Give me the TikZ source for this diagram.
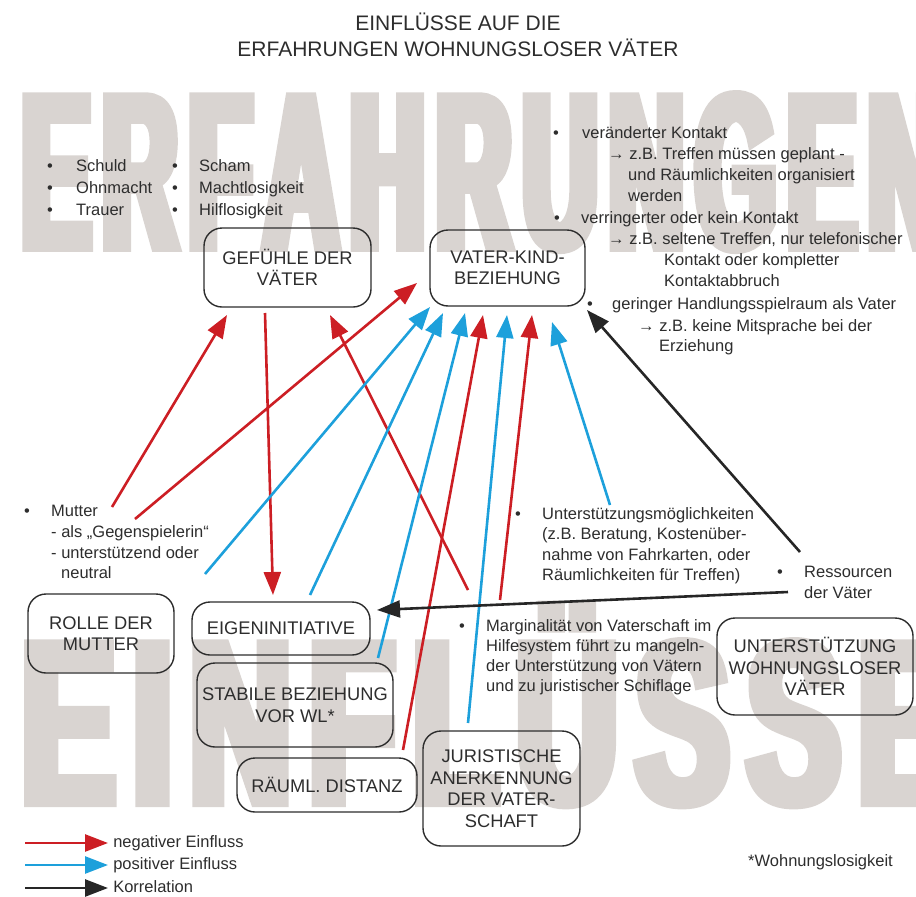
\documentclass[tikz,border=0pt]{standalone}
\usepackage{fontspec}
\setmainfont{Liberation Sans}
\newfontfamily\wmfontoben[FakeStretch=0.23,FakeBold=3.0]{Liberation Sans}
\newfontfamily\wmfontunten[FakeStretch=0.30,FakeBold=3.0]{Liberation Sans}
\usetikzlibrary{arrows.meta}

\definecolor{negred}{RGB}{204,30,36}
\definecolor{posblue}{RGB}{29,160,219}
\definecolor{korrgray}{RGB}{38,38,38}
\definecolor{wmgray}{RGB}{217,212,209}
\definecolor{txtgray}{RGB}{45,45,45}

\tikzset{
	txt/.style={anchor=west,inner sep=0pt,text=txtgray,font=\fontsize{16.5}{20}\selectfont,text height=12pt,text depth=3.5pt},
	titel/.style={anchor=base,inner sep=0pt,text=txtgray,font=\fontsize{21}{25}\selectfont},
	kasten/.style={draw=txtgray,line width=1.4pt,rounded corners=18pt,align=center,text=txtgray,font=\fontsize{18.3}{21.5}\selectfont,inner sep=0pt},
	wmtext/.style={anchor=base west,inner sep=0pt,text=wmgray},
	negarr/.style={draw=negred,line width=2.6pt,-{Triangle[length=23pt,width=17pt]}},
	posarr/.style={negarr,draw=posblue},
	korarr/.style={negarr,draw=korrgray}
}

\begin{document}
\begin{tikzpicture}[x=1pt,y=-1pt]
		\useasboundingbox (0,0) rectangle (916,897);
		\clip (0,0) rectangle (916,897);

		\node[wmtext,font=\wmfontoben\fontsize{222.3}{223}\selectfont\bfseries] (wmoben) at (22,248.6) {\scalebox{2}[1]{E\kern6.25pt R\kern6.25pt F\kern6.25pt A\kern6.25pt H\kern6.25pt R\kern6.25pt U\kern6.25pt N\kern6.25pt G\kern6.25pt E\kern6.25pt N}};
		\node[wmtext,font=\wmfontunten\fontsize{233.5}{234}\selectfont\bfseries] (wmunten) at (21.5,803.6) {\scalebox{2}[1]{E\kern9pt I\kern9pt N\kern9pt F\kern9pt L\kern9pt Ü\kern9pt S\kern9pt S\kern9pt E}};

		\node[titel] (titel1) at (458,30.5) {EINFLÜSSE AUF DIE};
		\node[titel] (titel2) at (458,56) {ERFAHRUNGEN WOHNUNGSLOSER VÄTER};

		\node[kasten,minimum width=167pt,minimum height=79pt] (gef) at (287.5,267.5) {GEFÜHLE DER\\VÄTER};
		\node[kasten,minimum width=155pt,minimum height=76pt] (vk) at (507.5,268) {VATER-KIND-\\BEZIEHUNG};
		\node[kasten,minimum width=146pt,minimum height=79pt] (rolle) at (101,633.5) {ROLLE DER\\MUTTER};
		\node[kasten,minimum width=178pt,minimum height=53pt] (eigen) at (281,628.5) {EIGENINITIATIVE};
		\node[kasten,minimum width=196pt,minimum height=84pt] (stabil) at (295,705) {STABILE BEZIEHUNG\\VOR WL*};
		\node[kasten,minimum width=180pt,minimum height=54pt] (raeuml) at (327,785) {RÄUML. DISTANZ};
		\node[kasten,minimum width=157pt,minimum height=115pt] (jur) at (501.5,788.5) {JURISTISCHE\\ANERKENNUNG\\DER VATER-\\SCHAFT};
		\node[kasten,minimum width=196pt,minimum height=97pt] (unter) at (815,666.5) {UNTERSTÜTZUNG\\WOHNUNGSLOSER\\VÄTER};

		\node[txt] (schuld) at (47,167) {\makebox[29pt][l]{•}Schuld};
		\node[txt] (ohnmacht) at (47,189) {\makebox[29pt][l]{•}Ohnmacht};
		\node[txt] (trauer) at (47,211) {\makebox[29pt][l]{•}Trauer};
		\node[txt] (scham) at (172,167) {\makebox[27pt][l]{•}Scham};
		\node[txt] (machtlos) at (172,189) {\makebox[27pt][l]{•}Machtlosigkeit};
		\node[txt] (hilflos) at (172,211) {\makebox[27pt][l]{•}Hilflosigkeit};

		\node[txt] (kontakt1) at (553,134) {\makebox[29pt][l]{•}veränderter Kontakt};
		\node[txt] (kontakt1a) at (608,155) {→ z.B. Treffen müssen geplant -};
		\node[txt] (kontakt1b) at (628,176) {und Räumlichkeiten organisiert};
		\node[txt] (kontakt1c) at (628,197) {werden};
		\node[txt] (kontakt2) at (554,219) {\makebox[27pt][l]{•}verringerter oder kein Kontakt};
		\node[txt] (kontakt2a) at (608,240) {→ z.B. seltene Treffen, nur telefonischer};
		\node[txt] (kontakt2b) at (664,261) {Kontakt oder kompletter};
		\node[txt] (kontakt2c) at (664,282) {Kontaktabbruch};
		\node[txt] (spielraum) at (587,305) {\makebox[25pt][l]{•}geringer Handlungsspielraum als Vater};
		\node[txt] (spielraum1) at (638,327) {→ z.B. keine Mitsprache bei der};
		\node[txt] (spielraum2) at (659,347) {Erziehung};

		\node[txt] (mutter) at (24,512) {\makebox[27pt][l]{•}Mutter};
		\node[txt] (mutter1) at (51,533) {- als „Gegenspielerin“};
		\node[txt] (mutter2) at (51,554) {- unterstützend oder};
		\node[txt] (mutter3) at (61,574) {neutral};

		\node[txt] (hilfe) at (515,515) {\makebox[27pt][l]{•}Unterstützungsmöglichkeiten};
		\node[txt] (hilfe1) at (542,535) {(z.B. Beratung, Kostenüber-};
		\node[txt] (hilfe2) at (542,556) {nahme von Fahrkarten, oder};
		\node[txt] (hilfe3) at (542,576) {Räumlichkeiten für Treffen)};

		\node[txt] (ress) at (777,573) {\makebox[27pt][l]{•}Ressourcen};
		\node[txt] (ress1) at (804,594) {der Väter};

		\node[txt] (margin) at (459,627) {\makebox[27pt][l]{•}Marginalität von Vaterschaft im};
		\node[txt] (margin1) at (486,647) {Hilfesystem führt zu mangeln-};
		\node[txt] (margin2) at (486,667) {der Unterstützung von Vätern};
		\node[txt] (margin3) at (486,687) {und zu juristischer Schiflage};

		\node[txt] (fussnote) at (748,862) {*Wohnungslosigkeit};

		\coordinate (mutterA) at (112,507);
		\coordinate (mutterB) at (135,519);
		\coordinate (mutterC) at (205,574);
		\coordinate (gefIn1) at (227,315);
		\coordinate (gefIn2) at (330,315);
		\coordinate (gefOut) at (265,313);
		\coordinate (eigenIn1) at (273,595);
		\coordinate (eigenIn2) at (377,610);
		\coordinate (eigenOut) at (310,595);
		\coordinate (stabilOut) at (378,658);
		\coordinate (raeumlOut) at (403,750);
		\coordinate (jurOut) at (468,723);
		\coordinate (marginA) at (468,590);
		\coordinate (marginB) at (500,600);
		\coordinate (hilfeOut) at (610,505);
		\coordinate (ressA) at (800,552);
		\coordinate (ressB) at (788,592);
		\coordinate (vkIn1) at (417,283);
		\coordinate (vkIn2) at (430,307);
		\coordinate (vkIn3) at (443,313);
		\coordinate (vkIn4) at (465,313);
		\coordinate (vkIn5) at (483,315);
		\coordinate (vkIn6) at (507,315);
		\coordinate (vkIn7) at (532,315);
		\coordinate (vkIn8) at (552,322);
		\coordinate (vkIn9) at (587,310);

		\draw[negarr] (mutterA) -- (gefIn1);
		\draw[negarr] (gefOut) -- (eigenIn1);
		\draw[negarr] (marginA) -- (gefIn2);
		\draw[negarr] (mutterB) -- (vkIn1);
		\draw[negarr] (raeumlOut) -- (vkIn5);
		\draw[negarr] (marginB) -- (vkIn7);
		\draw[posarr] (mutterC) -- (vkIn2);
		\draw[posarr] (eigenOut) -- (vkIn3);
		\draw[posarr] (stabilOut) -- (vkIn4);
		\draw[posarr] (jurOut) -- (vkIn6);
		\draw[posarr] (hilfeOut) -- (vkIn8);
		\draw[korarr] (ressA) -- (vkIn9);
		\draw[korarr] (ressB) -- (eigenIn2);

		\coordinate (legA) at (25,843);
		\coordinate (legB) at (25,865);
		\coordinate (legC) at (25,888);
		\draw[negarr] (legA) -- ++(83,0) node[txt,right=4pt] (legneg) {negativer Einfluss};
		\draw[posarr] (legB) -- ++(83,0) node[txt,right=4pt] (legpos) {positiver Einfluss};
		\draw[korarr] (legC) -- ++(83,0) node[txt,right=4pt] (legkorr) {Korrelation};
	\end{tikzpicture}
\end{document}
